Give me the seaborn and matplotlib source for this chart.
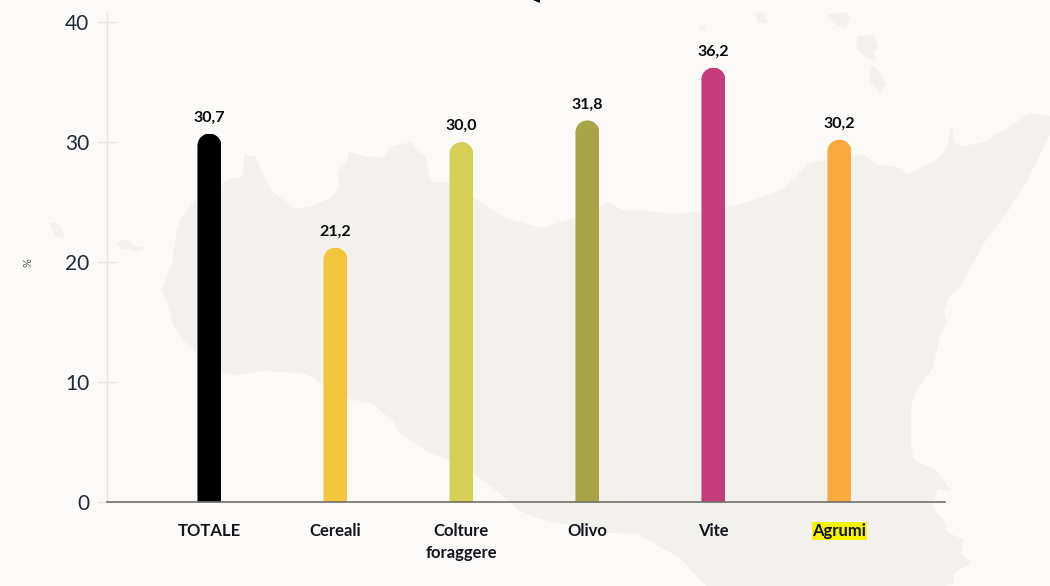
"""
Superficie per coltura in Sicilia: barre arrotondate su sagoma dell'isola.
"""

import matplotlib
matplotlib.use("Agg")
import matplotlib.pyplot as plt
import numpy as np
import pandas as pd
import seaborn as sns
from matplotlib.patches import Polygon
from matplotlib.path import Path
from matplotlib.transforms import IdentityTransform

# Data
CATEGORIES = ["TOTALE", "Cereali", "Colture\nforaggere", "Olivo", "Vite", "Agrumi"]
VALUES = [30.7, 21.2, 30.0, 31.8, 36.2, 30.2]
VALUE_LABELS = ["30,7", "21,2", "30,0", "31,8", "36,2", "30,2"]
BAR_COLORS = ["#000000", "#f2c53d", "#d6cf55", "#a8a447", "#c43c7a", "#f7a93b"]
Y_TICKS = [0, 10, 20, 30, 40]
Y_LABEL = "%"

# Background shape, traced in image pixels
SICILY = [
    (163, 290), (173, 263), (177, 233), (182, 217), (197, 200), (220, 187), (227, 180),
    (243, 177), (245, 155), (255, 157), (263, 177), (273, 193), (285, 202), (295, 210),
    (313, 207), (333, 197), (340, 187), (338, 172), (347, 163), (350, 153), (367, 157),
    (380, 158), (387, 155), (390, 148), (400, 145), (412, 143), (415, 150), (425, 157),
    (428, 173), (432, 183), (450, 183), (473, 198), (487, 207), (503, 218), (520, 223),
    (543, 229), (560, 223), (577, 218), (600, 208), (608, 203), (623, 211), (643, 211),
    (673, 215), (702, 212), (732, 207), (757, 200), (783, 190), (797, 177), (810, 163),
    (863, 155), (877, 165), (898, 168), (907, 175), (933, 163), (947, 150), (952, 127),
    (953, 143), (963, 147), (983, 143), (1000, 133), (1017, 123), (1030, 113), (1050, 117),
    (1050, 133), (1043, 147), (1027, 180), (1010, 207), (1000, 220), (983, 243), (965, 277),
    (960, 287), (950, 295), (943, 310), (946, 323), (940, 333), (932, 368), (917, 388),
    (910, 407), (910, 443), (913, 460), (937, 472), (950, 490), (937, 488), (932, 507),
    (943, 520), (947, 533), (963, 540), (960, 553), (970, 563), (953, 573), (953, 583),
    (940, 586), (707, 586), (680, 557), (637, 533), (603, 532), (540, 518), (520, 510),
    (493, 487), (473, 472), (450, 460), (427, 450), (400, 433), (393, 420), (372, 403),
    (348, 398), (323, 385), (307, 373), (263, 370), (237, 375), (223, 372), (185, 341),
    (173, 323), (168, 303), (162, 288),
]
ISLANDS = [
    [(50, 224), (56, 223), (62, 230), (64, 238), (56, 236)],
    [(118, 243), (127, 240), (137, 248), (145, 248), (138, 251), (128, 248), (122, 249)],
    [(700, 26), (704, 25), (704, 30), (700, 30)],
    [(756, 13), (763, 13), (768, 23), (758, 22)],
    [(827, 15), (847, 13), (849, 18), (845, 28), (835, 23)],
    [(858, 37), (873, 35), (878, 48), (873, 50), (875, 60), (867, 58), (857, 48)],
    [(872, 67), (877, 70), (886, 85), (880, 91), (870, 80)],
]
TOP_MARK = [(533, 0), (540, 0), (540, 3)]

# Colours and fonts
BG_COLOR = "#fbfaf8"
MAP_COLOR = "#f3f1ed"
FONT = "Lato"

sns.set_theme(style="white")
plt.rcParams["font.family"] = [FONT, "DejaVu Sans"]

WIDTH, HEIGHT = 1050, 586
fig = plt.figure(figsize=(WIDTH / 100, HEIGHT / 100), dpi=100, facecolor=BG_COLOR)

# Background map on its own pixel axes
bg = fig.add_axes([0, 0, 1, 1], zorder=0)
bg.set_xlim(0, WIDTH)
bg.set_ylim(HEIGHT, 0)
bg.axis("off")
bg.add_patch(Polygon(SICILY, closed=True, facecolor=MAP_COLOR, edgecolor=MAP_COLOR, lw=1, joinstyle="round"))
for island in ISLANDS:
    bg.add_patch(Polygon(island, closed=True, facecolor=MAP_COLOR, edgecolor=MAP_COLOR, lw=1, joinstyle="round"))
bg.add_patch(Polygon(TOP_MARK, closed=True, facecolor="#000000", edgecolor="none"))

# Main axes
ax = fig.add_axes([106.5 / WIDTH, (HEIGHT - 502) / HEIGHT, (945 - 106.5) / WIDTH, (502 - 13) / HEIGHT], zorder=1)
ax.patch.set_alpha(0)

df = pd.DataFrame({"coltura": CATEGORIES, "valore": VALUES})
sns.barplot(
    data=df, x="coltura", y="valore", hue="coltura", palette=BAR_COLORS,
    width=0.19, saturation=1, legend=False, ax=ax,
)
ax.set_xlim(-0.817, 5.838)
ax.set_ylim(0, 40.75)
ax.set_xlabel("")
ax.set_ylabel("")

# Round the top of every bar with a clip path (half circle on top)
fig.canvas.draw()
bars = list(ax.patches)
for bar in bars:
    (x0, y0), (x1, y1) = ax.transData.transform(
        [(bar.get_x(), bar.get_y()), (bar.get_x() + bar.get_width(), bar.get_y() + bar.get_height())]
    )
    radius = (x1 - x0) / 2
    arc = Path.arc(0, 180)
    top = arc.vertices * radius + np.array([x0 + radius, y1 - radius])
    verts = np.vstack([[x1, y0 - 5], top, [x0, y0 - 5], [x1, y0 - 5]])
    codes = [Path.MOVETO, Path.LINETO] + list(arc.codes[1:]) + [Path.LINETO, Path.CLOSEPOLY]
    bar.set_linewidth(0)
    bar.set_clip_path(Path(verts, codes), IdentityTransform())

# Value labels
for bar, text in zip(bars, VALUE_LABELS):
    ax.annotate(
        text, (bar.get_x() + bar.get_width() / 2, bar.get_height()), xytext=(0, 6.3),
        textcoords="offset points", ha="center", va="bottom", fontsize=11.5, fontweight="bold", color="#0a0a0a",
    )

# Axes styling
for side in ["top", "right"]:
    ax.spines[side].set_visible(False)
ax.spines["left"].set_color("#e6e4dc")
ax.spines["left"].set_linewidth(1.0)
ax.spines["bottom"].set_color("#716f6b")
ax.spines["bottom"].set_linewidth(1.2)

ax.set_yticks(Y_TICKS)
ax.tick_params(
    axis="y", direction="inout", length=13, width=1.0, color="#e6e4dc",
    labelsize=15, labelcolor="#1f2a3a", pad=6, left=True,
)

ax.tick_params(axis="x", length=0, pad=15, labelsize=12, labelcolor="#12151c")
for label in ax.get_xticklabels():
    label.set_fontweight("bold")
    label.set_linespacing(1.45)
    label.set_verticalalignment("top")
ax.get_xticklabels()[-1].set_bbox(dict(facecolor="#f4f400", edgecolor="none", pad=0.6))

fig.text(28 / WIDTH, (HEIGHT - 263) / HEIGHT, Y_LABEL, rotation=90, ha="center", va="center", fontsize=8, color="#555555")

fig.savefig("out.png", dpi=100, facecolor=BG_COLOR)
